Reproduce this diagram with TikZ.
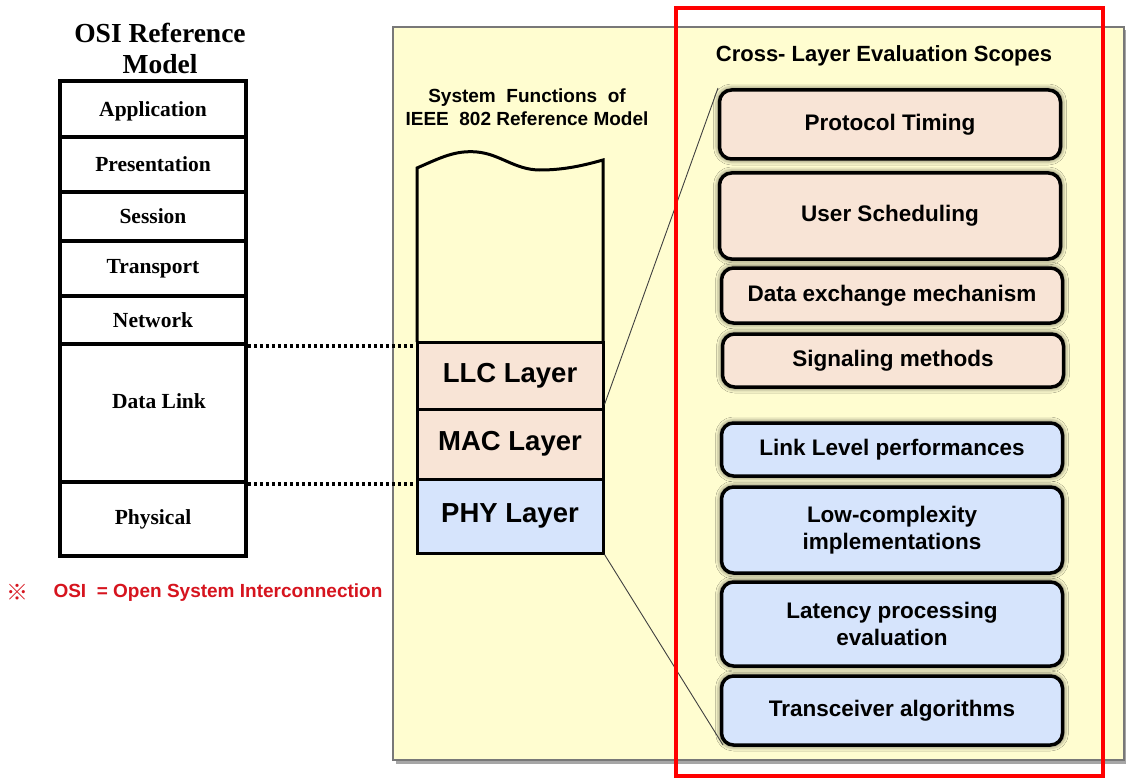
\documentclass[tikz,border=0pt]{standalone}
\usepackage{fontspec}
\setmainfont{Liberation Serif}
\setsansfont{Liberation Sans}
\newfontfamily\cjkfont{Noto Sans CJK JP}
\usetikzlibrary{shadows.blur}
\definecolor{bgyellow}{RGB}{255,253,208}
\definecolor{peach}{RGB}{248,228,214}
\definecolor{lightblue}{RGB}{214,228,252}
\definecolor{notered}{RGB}{214,20,30}
\definecolor{framegray}{RGB}{120,120,120}
\tikzset{
  osirow/.style={draw, line width=3.5pt, minimum width=186pt, inner sep=0pt,
    font=\bfseries\fontsize{21.5}{24}\selectfont},
  stackrow/.style={draw, line width=3pt, minimum width=186pt, inner sep=0pt,
    font=\sffamily\bfseries\fontsize{27.5}{30}\selectfont},
  scopebox/.style={draw, line width=3.5pt, rounded corners=12pt, minimum width=341pt,
    inner sep=0pt, align=center, font=\sffamily\bfseries\fontsize{22.5}{27}\selectfont,
    blur shadow={shadow xshift=0pt, shadow yshift=0pt, shadow blur radius=6pt, shadow opacity=85}},
  zoomline/.style={draw=black!75, line width=0.9pt},
  dotline/.style={line width=3.5pt, dash pattern=on 3pt off 3pt}
}
\begin{document}
\begin{tikzpicture}[x=1pt,y=-1pt]
\useasboundingbox (0,0) rectangle (1126,778);
\clip (0,0) rectangle (1126,778);

% yellow background panel
\fill[black!35] (396,30) rectangle (1130,764);
\draw[fill=bgyellow, draw=framegray, line width=2.5pt] (393,27) rectangle (1124,760);

% OSI title
\node[font=\bfseries\fontsize{27.5}{31}\selectfont, align=center] (osititle) at (160,48) {OSI Reference\\Model};

% OSI stack
\node[osirow, minimum height=56pt, text depth=0pt] (app) at (153,109) {Application};
\node[osirow, minimum height=55pt] (pres) at (153,164.5) {Presentation};
\node[osirow, minimum height=49pt] (sess) at (153,216.5) {Session};
\node[osirow, minimum height=55pt] (trans) at (153,268.5) {Transport};
\node[osirow, minimum height=48pt] (net) at (153,320) {Network};
\node[osirow, minimum height=138pt] (dl) at (153,413) {};
\node[font=\bfseries\fontsize{21.5}{24}\selectfont] (dltext) at (159,401) {Data Link};
\node[osirow, minimum height=74pt] (phys) at (153,519) {Physical};

% note
\node[text=notered, font=\cjkfont\fontsize{22}{24}\selectfont] (mark) at (17,592) {※};
\node[text=notered, anchor=west, font=\sffamily\bfseries\fontsize{19}{22}\selectfont] (note) at (50,593) {OSI\ \ = Open System\ Interconnection};

% IEEE title
\node[align=center, font=\sffamily\bfseries\fontsize{19}{23}\selectfont] (ieeetitle) at (527,107) {System\ \ Functions\ \ of\\IEEE\ \ 802 Reference Model};

% upper (wavy) part of IEEE stack
\draw[line width=3pt] (417,342) -- (417,168)
  .. controls (440,158) and (455,150) .. (477,152)
  .. controls (500,154) and (515,170) .. (540,170)
  .. controls (565,170) and (585,165) .. (603,160) -- (603,342);

\node[stackrow, fill=peach, minimum height=67pt] (llc) at (510,375.5) {LLC Layer};
\node[stackrow, fill=peach, minimum height=70pt] (mac) at (510,444) {MAC Layer};
\node[stackrow, fill=lightblue, minimum height=74pt] (phy) at (510,516) {PHY Layer};

% dotted correspondences
\draw[dotline] (net.south east) -- (net.south east -| llc.west);
\draw[dotline] (dl.south east) -- (dl.south east -| phy.west);

% Cross-layer title
\node[font=\sffamily\bfseries\fontsize{22}{26}\selectfont] (crosstitle) at (884,56) {Cross- Layer Evaluation Scopes};

% scope boxes
\node[scopebox, fill=peach, minimum height=69pt] (s1) at (890,124.5) {Protocol Timing};
\node[scopebox, fill=peach, minimum height=86pt] (s2) at (890,216) {User Scheduling};
\node[scopebox, fill=peach, minimum height=55pt] (s3) at (892,295.5) {Data exchange mechanism};
\node[scopebox, fill=peach, minimum height=53pt] (s4) at (893,360.5) {Signaling methods};
\node[scopebox, fill=lightblue, minimum height=53pt] (s5) at (892,449.5) {Link Level performances};
\node[scopebox, fill=lightblue, minimum height=86pt] (s6) at (892,530) {Low-complexity\\implementations};
\node[scopebox, fill=lightblue, minimum height=84pt] (s7) at (892,624) {Latency processing\\evaluation};
\node[scopebox, fill=lightblue, minimum height=69pt] (s8) at (892,710.5) {Transceiver algorithms};

% zoom lines
\coordinate (ztop) at (718,88);
\coordinate (zbot) at (723,745);
\draw[zoomline] ([yshift=6pt]llc.south east) -- (ztop);
\draw[zoomline] (phy.south east) -- (zbot);

% red frame
\draw[red, line width=3.5pt] (676,8) rectangle (1103,776);
\end{tikzpicture}
\end{document}
